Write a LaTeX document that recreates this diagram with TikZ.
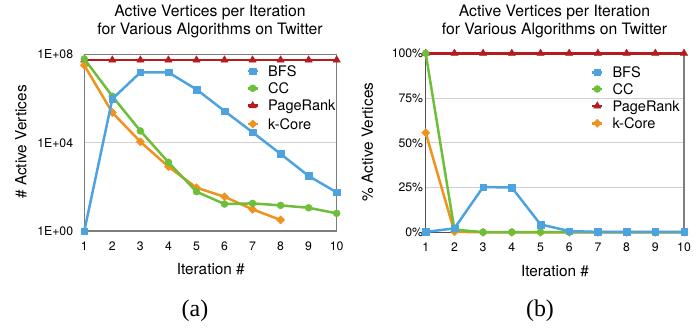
\documentclass[tikz,border=0pt]{standalone}
\usepackage{fontspec}
\setmainfont{TeX Gyre Heros}
\newfontfamily\capfont{Liberation Serif}
\usetikzlibrary{plotmarks}
\definecolor{bfsc}{RGB}{77,163,224}
\definecolor{ccc}{RGB}{109,191,58}
\definecolor{prc}{RGB}{180,28,30}
\definecolor{kcc}{RGB}{240,147,30}
\definecolor{axc}{RGB}{125,125,125}
\definecolor{axd}{RGB}{80,80,80}
\definecolor{gridc}{RGB}{208,208,208}
\tikzset{
  titletext/.style={font=\fontsize{15.8}{18}\selectfont, anchor=base, inner sep=0pt},
  axlabel/.style={font=\fontsize{15.4}{18}\selectfont, inner sep=0pt},
  ticktext/.style={font=\fontsize{12.3}{14}\selectfont, inner sep=0pt},
  legtext/.style={font=\fontsize{14.6}{17}\selectfont, anchor=base west, inner sep=0pt},
  captext/.style={font=\capfont\fontsize{24}{28}\selectfont, anchor=base, inner sep=0pt},
  frameline/.style={draw=axc, line width=1.5bp},
  gridline/.style={draw=gridc, line width=1bp},
  serline/.style={line width=2.5bp, line join=round},
  bfsline/.style={serline, draw=bfsc, mark=square*, mark size=3.3bp, mark options={fill=bfsc, draw=bfsc, line width=0.4bp}},
  ccline/.style={serline, draw=ccc, mark=*, mark size=3.5bp, mark options={fill=ccc, draw=ccc, line width=0.4bp}},
  prline/.style={serline, draw=prc, mark=triangle*, mark size=4.3bp, mark options={fill=prc, draw=prc, line width=0.4bp}},
  kcline/.style={serline, draw=kcc, mark=square*, mark size=2.9bp, mark options={fill=kcc, draw=kcc, rotate=45, line width=0.4bp}},
}
\begin{document}
\begin{tikzpicture}[x=1bp,y=1bp]
\useasboundingbox (0,0) rectangle (700,330);

% ---------------- (a) ----------------
\node[titletext] (ta1) at (210,313.3) {Active Vertices per Iteration};
\node[titletext] (ta2) at (210,295.7) {for Various Algorithms on Twitter};
\node[axlabel, anchor=base] (xla) at (210.8,55.7) {Iteration \#};
\node[axlabel, rotate=90] (yla) at (21,188) {\# Active Vertices};
\node[ticktext, anchor=east] (ya8) at (73.3,275.7) {1E+08};
\node[ticktext, anchor=east] (ya4) at (73.3,187.35) {1E+04};
\node[ticktext, anchor=east] (ya0) at (73.3,99) {1E+00};
\foreach \i in {1,...,10} {
  \node[ticktext, anchor=base] (xa\i) at ({84.3+(\i-1)*28.04},80) {\i};
}
\begin{scope}[shift={(84.3bp,99bp)}, x=28.04bp, y=22.09bp]
  \draw[gridline] (0,4) -- (9,4);
  \draw[frameline] (0,8) -- (9,8);
  \draw[frameline] (0,0) -- (9,0);
  \draw[frameline] (0,0) -- (0,8);
  \draw[frameline] (9,0) -- (9,8);
  \draw[prline] plot coordinates {(0,7.74)(1,7.74)(2,7.74)(3,7.74)(4,7.74)(5,7.74)(6,7.74)(7,7.74)(8,7.74)(9,7.74)};
  \draw[kcline] plot coordinates {(0,7.50)(1,5.36)(2,4.04)(3,2.91)(4,1.96)(5,1.55)(6,0.98)(7,0.50)};
  \draw[ccline] plot coordinates {(0,7.79)(1,6.1)(2,4.53)(3,3.11)(4,1.78)(5,1.22)(6,1.25)(7,1.16)(8,1.05)(9,0.80)};
  \draw[bfsline] plot coordinates {(0,0)(1,5.98)(2,7.18)(3,7.18)(4,6.41)(5,5.43)(6,4.47)(7,3.49)(8,2.49)(9,1.75)};
\end{scope}
% legend (a)
\draw[bfsline, mark indices={2}] plot coordinates {(247.7,259)(252.7,259)(257.7,259)};
\draw[ccline, mark indices={2}] plot coordinates {(247.7,241.7)(252.7,241.7)(257.7,241.7)};
\draw[prline, mark indices={2}] plot coordinates {(247.7,224.3)(252.7,224.3)(257.7,224.3)};
\draw[kcline, mark indices={2}] plot coordinates {(247.7,206)(252.7,206)(257.7,206)};
\node[legtext] (la1) at (268,253.8) {BFS};
\node[legtext] (la2) at (268,236.5) {CC};
\node[legtext] (la3) at (268,219.1) {PageRank};
\node[legtext] (la4) at (268,200.8) {k-Core};
\node[captext] (capa) at (195,13.5) {(a)};

% ---------------- (b) ----------------
\node[titletext] (tb1) at (554.5,313.3) {Active Vertices per Iteration};
\node[titletext] (tb2) at (554.5,295.7) {for Various Algorithms on Twitter};
\node[axlabel, anchor=base] (xlb) at (555,53.5) {Iteration \#};
\node[axlabel, rotate=90] (ylb) at (367.5,188) {\% Active Vertices};
\node[ticktext, anchor=east] (yb100) at (423.3,276.7) {100\%};
\node[ticktext, anchor=east] (yb75) at (423.3,231.95) {75\%};
\node[ticktext, anchor=east] (yb50) at (423.3,187.2) {50\%};
\node[ticktext, anchor=east] (yb25) at (423.3,142.45) {25\%};
\node[ticktext, anchor=east] (yb0) at (423.3,97.7) {0\%};
\foreach \i in {1,...,10} {
  \node[ticktext, anchor=base] (xb\i) at ({425.7+(\i-1)*28.7},79) {\i};
}
\begin{scope}[shift={(425.7bp,97.7bp)}, x=28.7bp, y=1.79bp]
  \draw[gridline] (0,25) -- (9,25);
  \draw[gridline] (0,50) -- (9,50);
  \draw[gridline] (0,75) -- (9,75);
  \draw[frameline] (9,0) -- (9,100);
  \draw[frameline, draw=axd] (0,0) -- (9,0);
  \draw[frameline, draw=axd] (0,0) -- (0,100);
  \draw[prline] plot coordinates {(0,100)(1,100)(2,100)(3,100)(4,100)(5,100)(6,100)(7,100)(8,100)(9,100)};
  \draw[kcline] plot coordinates {(0,55.6)(1,0.3)(2,0)(3,0)(4,0)(5,0)(6,0)(7,0)(8,0)(9,0)};
  \draw[ccline] plot coordinates {(0,100)(1,1.5)(2,0.1)(3,0.1)(4,0.1)(5,0.1)(6,0.1)(7,0.1)(8,0.1)(9,0.1)};
  \draw[bfsline] plot coordinates {(0,0.2)(1,2.2)(2,25.3)(3,25.0)(4,4.4)(5,0.7)(6,0.2)(7,0.2)(8,0.2)(9,0.2)};
\end{scope}
% legend (b)
\draw[bfsline, mark indices={2}] plot coordinates {(592.3,257.7)(597.3,257.7)(602.3,257.7)};
\draw[ccline, mark indices={2}] plot coordinates {(592.3,241)(597.3,241)(602.3,241)};
\draw[prline, mark indices={2}] plot coordinates {(592.3,224)(597.3,224)(602.3,224)};
\draw[kcline, mark indices={2}] plot coordinates {(592.3,206.7)(597.3,206.7)(602.3,206.7)};
\node[legtext] (lb1) at (612.3,252.5) {BFS};
\node[legtext] (lb2) at (612.3,235.8) {CC};
\node[legtext] (lb3) at (612.3,218.8) {PageRank};
\node[legtext] (lb4) at (612.3,201.5) {k-Core};
\node[captext] (capb) at (540,13.5) {(b)};
\end{tikzpicture}
\end{document}
